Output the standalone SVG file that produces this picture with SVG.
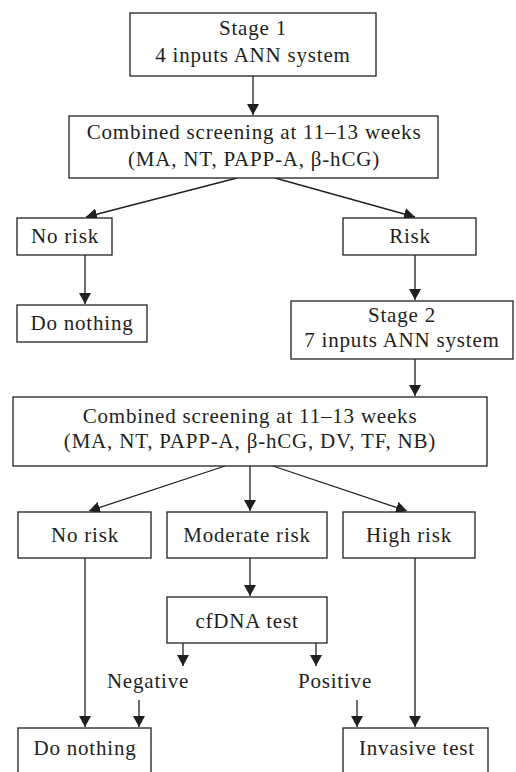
<svg xmlns="http://www.w3.org/2000/svg" width="516" height="772" viewBox="0 0 516 772">
<defs>
<marker id="ah" markerUnits="userSpaceOnUse" markerWidth="12" markerHeight="12" refX="11" refY="6" orient="auto">
<path d="M0,0 L11,6 L0,12 Z" fill="#231f20"/>
</marker>
<style>
rect{fill:#fff;stroke:#231f20;stroke-width:1.3}
text{font-family:"Liberation Serif","Times New Roman",serif;font-size:21px;fill:#231f20;text-anchor:middle;letter-spacing:0.8px}
#connectors line{stroke:#231f20;stroke-width:1.3;marker-end:url(#ah)}
</style>
</defs>
<rect x="0" y="0" width="516" height="772" style="stroke:none;fill:#fff"/>
<g id="connectors">
<line x1="253" y1="76" x2="253" y2="115"/>
<line x1="237" y1="178" x2="86" y2="217"/>
<line x1="275" y1="178" x2="415" y2="217"/>
<line x1="85" y1="255" x2="85" y2="304"/>
<line x1="415" y1="255" x2="415" y2="300"/>
<line x1="415" y1="359" x2="415" y2="396"/>
<line x1="225" y1="466" x2="89" y2="511"/>
<line x1="250" y1="466" x2="250" y2="511"/>
<line x1="273" y1="466" x2="407" y2="511"/>
<line x1="250" y1="558" x2="250" y2="596"/>
<line x1="183" y1="643" x2="183" y2="666"/>
<line x1="316" y1="643" x2="316" y2="666"/>
<line x1="139" y1="700" x2="139" y2="727"/>
<line x1="357" y1="700" x2="357" y2="727"/>
<line x1="85" y1="558" x2="85" y2="727"/>
<line x1="415" y1="558" x2="415" y2="727"/>
</g>
<g id="stage1">
<rect x="130" y="13" width="246" height="63"/>
<text x="253" y="35">Stage 1</text>
<text x="253" y="62">4 inputs ANN system</text>
</g>
<g id="combined1">
<rect x="69" y="116" width="369" height="62"/>
<text x="254" y="139">Combined screening at 11–13 weeks</text>
<text x="254" y="166">(MA, NT, PAPP-A, β-hCG)</text>
</g>
<g id="norisk1">
<rect x="17" y="218" width="95" height="37"/>
<text x="65" y="243">No risk</text>
</g>
<g id="risk1">
<rect x="343" y="218" width="133" height="37"/>
<text x="410" y="243">Risk</text>
</g>
<g id="donothing1">
<rect x="17" y="305" width="130" height="37"/>
<text x="82" y="330">Do nothing</text>
</g>
<g id="stage2">
<rect x="291" y="301" width="222" height="58"/>
<text x="402" y="322">Stage 2</text>
<text x="402" y="347">7 inputs ANN system</text>
</g>
<g id="combined2">
<rect x="13" y="397" width="474" height="69"/>
<text x="250" y="423">Combined screening at 11–13 weeks</text>
<text x="250" y="448">(MA, NT, PAPP-A, β-hCG, DV, TF, NB)</text>
</g>
<g id="norisk2">
<rect x="18" y="512" width="133" height="46"/>
<text x="85" y="542">No risk</text>
</g>
<g id="moderate">
<rect x="167" y="512" width="160" height="46"/>
<text x="247" y="542">Moderate risk</text>
</g>
<g id="highrisk">
<rect x="343" y="512" width="132" height="46"/>
<text x="409" y="542">High risk</text>
</g>
<g id="cfdna">
<rect x="167" y="597" width="160" height="46"/>
<text x="247" y="628">cfDNA test</text>
</g>
<g id="negative">
<text x="148" y="688">Negative</text>
</g>
<g id="positive">
<text x="335" y="688">Positive</text>
</g>
<g id="donothing2">
<rect x="18" y="728" width="133" height="70"/>
<text x="85" y="755">Do nothing</text>
</g>
<g id="invasive">
<rect x="343" y="728" width="145" height="70"/>
<text x="417" y="755">Invasive test</text>
</g>
</svg>
